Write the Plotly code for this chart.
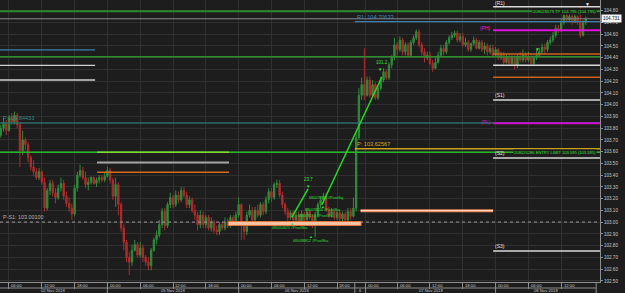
import plotly.graph_objects as go

# ---------------- data (30-minute bars) ----------------
opens = [103.74,103.80,103.85,103.78,103.89,103.85,103.91,103.83,103.61,103.70,
 103.66,103.55,103.47,103.43,103.38,103.43,103.34,103.12,103.27,103.33,
 103.25,103.21,103.29,103.33,103.22,103.16,103.12,103.07,103.29,103.40,
 103.44,103.38,103.32,103.34,103.38,103.33,103.36,103.38,103.36,103.39,
 103.44,103.36,103.22,103.32,103.15,102.95,102.83,102.70,102.66,102.76,
 102.81,102.72,102.78,102.70,102.66,102.63,102.76,102.85,102.89,102.98,
 103.09,102.97,103.15,103.21,103.15,103.23,103.19,103.27,103.23,103.15,
 103.19,103.10,103.06,102.98,103.06,102.98,103.04,102.95,103.00,102.93,
 102.92,102.98,102.95,103.00,102.97,103.04,103.00,103.06,103.15,102.98,
 102.92,103.06,103.10,103.02,103.10,103.06,103.15,103.09,103.19,103.26,
 103.21,103.32,103.33,103.23,103.15,103.09,103.04,103.08,103.02,103.06,
 103.00,103.07,103.02,103.09,103.04,102.97,103.06,103.15,103.19,103.22,
 103.10,103.06,103.09,103.04,103.08,103.03,103.07,103.02,103.09,103.05,
 103.12,103.72,104.08,104.17,104.08,104.21,104.08,104.17,104.06,104.14,
 104.21,104.28,104.23,104.34,104.40,104.51,104.47,104.55,104.45,104.51,
 104.42,104.53,104.57,104.62,104.51,104.45,104.40,104.42,104.35,104.31,
 104.36,104.42,104.48,104.45,104.53,104.57,104.59,104.61,104.55,104.58,
 104.51,104.53,104.47,104.52,104.55,104.48,104.53,104.47,104.50,104.45,
 104.48,104.42,104.47,104.40,104.42,104.36,104.41,104.35,104.40,104.34,
 104.41,104.38,104.43,104.38,104.41,104.35,104.40,104.42,104.45,104.49,
 104.47,104.53,104.55,104.59,104.65,104.64,104.70,104.76,104.72,104.75,
 104.70,104.75,104.70,104.59,104.70]
closes = [103.80,103.85,103.78,103.89,103.85,103.91,103.83,103.61,103.70,103.66,
 103.55,103.47,103.43,103.38,103.43,103.34,103.12,103.27,103.33,103.25,
 103.21,103.29,103.33,103.22,103.16,103.12,103.07,103.29,103.40,103.44,
 103.38,103.32,103.34,103.38,103.33,103.36,103.38,103.36,103.39,103.44,
 103.36,103.22,103.32,103.15,102.95,102.83,102.70,102.66,102.76,102.81,
 102.72,102.78,102.70,102.66,102.63,102.76,102.85,102.89,102.98,103.09,
 102.97,103.15,103.21,103.15,103.23,103.19,103.27,103.23,103.15,103.19,
 103.10,103.06,102.98,103.06,102.98,103.04,102.95,103.00,102.93,102.92,
 102.98,102.95,103.00,102.97,103.04,103.00,103.06,103.15,102.98,102.92,
 103.06,103.10,103.02,103.10,103.06,103.15,103.09,103.19,103.26,103.21,
 103.32,103.33,103.23,103.15,103.09,103.04,103.08,103.02,103.06,103.00,
 103.07,103.02,103.09,103.04,102.97,103.06,103.15,103.19,103.22,103.10,
 103.06,103.09,103.04,103.08,103.03,103.07,103.02,103.09,103.05,103.12,
 103.72,104.08,104.17,104.08,104.21,104.08,104.17,104.06,104.14,104.21,
 104.28,104.23,104.34,104.40,104.51,104.47,104.55,104.45,104.51,104.42,
 104.53,104.57,104.62,104.51,104.45,104.40,104.42,104.35,104.31,104.36,
 104.42,104.48,104.45,104.53,104.57,104.59,104.61,104.55,104.58,104.51,
 104.53,104.47,104.52,104.55,104.48,104.53,104.47,104.50,104.45,104.48,
 104.42,104.47,104.40,104.42,104.36,104.41,104.35,104.40,104.34,104.41,
 104.38,104.43,104.38,104.41,104.35,104.40,104.42,104.45,104.49,104.47,
 104.53,104.55,104.59,104.65,104.64,104.70,104.76,104.72,104.75,104.70,
 104.75,104.70,104.59,104.70,104.731]
highs = [103.83,103.89,103.87,103.91,103.93,103.94,103.93,103.85,103.78,103.72,
 103.68,103.57,103.53,103.46,103.46,103.44,103.38,103.29,103.36,103.36,
 103.29,103.32,103.38,103.36,103.26,103.21,103.16,103.32,103.43,103.49,
 103.47,103.43,103.38,103.39,103.39,103.38,103.40,103.40,103.43,103.47,
 103.46,103.38,103.38,103.34,103.17,102.98,102.85,102.75,102.81,102.85,
 102.83,102.83,102.81,102.72,102.70,102.78,102.87,102.93,103.02,103.12,
 103.12,103.17,103.25,103.23,103.27,103.26,103.30,103.30,103.26,103.22,
 103.21,103.15,103.09,103.10,103.09,103.06,103.06,103.04,103.02,102.97,
 103.00,103.00,103.04,103.03,103.06,103.06,103.09,103.21,103.16,103.00,
 103.09,103.15,103.13,103.13,103.15,103.17,103.17,103.22,103.29,103.29,
 103.34,103.36,103.36,103.26,103.17,103.12,103.10,103.10,103.09,103.09,
 103.10,103.09,103.12,103.10,103.06,103.09,103.17,103.22,103.25,103.25,
 103.13,103.12,103.10,103.10,103.10,103.09,103.09,103.12,103.12,103.21,
 103.78,104.14,104.23,104.48,104.24,104.24,104.21,104.19,104.17,104.24,
 104.31,104.30,104.36,104.42,104.57,104.53,104.58,104.57,104.53,104.53,
 104.55,104.59,104.64,104.64,104.53,104.48,104.45,104.45,104.38,104.40,
 104.45,104.51,104.51,104.55,104.59,104.62,104.63,104.63,104.61,104.61,
 104.57,104.55,104.53,104.58,104.57,104.55,104.55,104.53,104.52,104.51,
 104.51,104.49,104.48,104.45,104.45,104.43,104.43,104.42,104.42,104.43,
 104.45,104.47,104.45,104.45,104.43,104.42,104.47,104.48,104.52,104.52,
 104.55,104.58,104.62,104.68,104.68,104.73,104.79,104.78,104.77,104.77,
 104.77,104.76,104.83,104.72,104.75]
lows = [103.72,103.77,103.74,103.77,103.83,103.83,103.80,103.47,103.57,103.61,
 103.51,103.44,103.39,103.36,103.36,103.32,103.09,103.10,103.23,103.22,
 103.16,103.19,103.26,103.19,103.13,103.09,103.02,103.05,103.26,103.38,
 103.36,103.29,103.27,103.32,103.32,103.30,103.33,103.34,103.34,103.38,
 103.33,103.19,103.13,103.06,102.92,102.76,102.66,102.55,102.63,102.75,
 102.70,102.70,102.66,102.63,102.59,102.59,102.75,102.81,102.87,102.95,
 102.93,102.95,103.12,103.12,103.13,103.16,103.17,103.21,103.12,103.12,
 103.08,103.02,102.93,102.95,102.95,102.95,102.93,102.92,102.91,102.89,
 102.89,102.93,102.93,102.95,102.95,102.98,102.98,103.04,102.85,102.85,
 102.89,103.04,103.00,103.00,103.04,103.04,103.06,103.07,103.16,103.17,
 103.19,103.29,103.21,103.12,103.06,103.00,103.02,102.99,103.00,102.98,
 102.98,103.00,103.00,103.02,102.95,102.87,103.04,103.12,103.16,103.09,
 103.04,103.04,103.02,103.02,103.00,103.00,103.00,103.00,103.02,103.04,
 103.09,103.70,104.04,104.04,104.07,104.06,104.07,104.04,104.04,104.12,
 104.19,104.21,104.21,104.31,104.38,104.42,104.45,104.42,104.42,104.40,
 104.41,104.51,104.55,104.49,104.42,104.36,104.38,104.34,104.28,104.30,
 104.35,104.41,104.42,104.43,104.51,104.55,104.57,104.53,104.53,104.49,
 104.49,104.45,104.45,104.50,104.47,104.47,104.45,104.43,104.42,104.43,
 104.41,104.41,104.38,104.38,104.34,104.35,104.34,104.34,104.30,104.31,
 104.36,104.36,104.36,104.36,104.34,104.34,104.38,104.41,104.43,104.43,
 104.45,104.51,104.53,104.57,104.61,104.62,104.68,104.70,104.70,104.68,
 104.70,104.68,104.57,104.58,104.68]

# x-axis: time ticks (bar index) and date sections
time_tick_bars = [3, 15, 27, 39, 51, 63, 75, 87, 99, 111, 123, 133.4, 145, 157, 169, 181, 193, 205]
time_tick_text = ["06:00", "12:00", "18:00", "00:00", "06:00", "12:00", "18:00", "00:00", "06:00",
                  "12:00", "18:00", "00:00", "06:00", "12:00", "18:00", "00:00", "06:00", "12:00"]
date_sep_bars = [39, 87, 129.5, 133.4, 181, 217.8]
date_label_bars = [19, 63, 108.2, 131.45, 157.2, 199.4]
date_label_text = ["02 Nov 2018", "05 Nov 2018", "06 Nov 2018", "6", "07 Nov 2018", "08 Nov 2018"]

# price levels
tp_price = 104.795
entry_price = 103.595
order_level = 104.408
day_r1 = 104.70633
day_p = 103.62567
prev_p = 103.84433
prev_s1 = 103.00100
new_r1, new_ph, new_m1, new_m2, new_m3 = 104.834, 104.633, 104.431, 104.335, 104.233
new_s1, new_pl, new_s2, new_s3 = 104.040, 103.842, 103.546, 102.755
old_lime, old_gray, old_orange = 103.595, 103.508, 103.426
left_blue, left_white1, left_white2 = 104.466, 104.335, 104.210
peach_line = 103.098
zone_low, zone_high = 102.972, 103.006

# drawings (bar, price)
trend_long = [(117.4, 103.146), (139.4, 104.236)]
trend_short = [(106.5, 103.044), (112.4, 103.283)]

FONT = "Liberation Sans"
BG = "#1d1d1d"
GRID = "#303030"
AX = "#8e8e8e"

x = list(range(len(opens)))
fig = go.Figure()
fig.add_trace(go.Candlestick(
    x=x, open=opens, high=highs, low=lows, close=closes,
    increasing=dict(line=dict(color="#2f8c3a", width=1), fillcolor="#2f8c3a"),
    decreasing=dict(line=dict(color="#b02c2c", width=1), fillcolor="#b02c2c"),
    whiskerwidth=0, showlegend=False, hoverinfo="skip"))

XMIN, XMAX = -0.29, 219.2
shapes = []


def hline(price, x0, x1, color, width=1.0, dash="solid"):
    shapes.append(dict(type="line", xref="x", yref="y", x0=x0, x1=x1, y0=price, y1=price,
                       line=dict(color=color, width=width, dash=dash), layer="above"))


# full-width levels
hline(tp_price, XMIN, XMAX, "#2b8a2b", 2)
hline(closes[-1], XMIN, XMAX, "#8a8a8a", 1)
hline(order_level, XMIN, XMAX, "#2f8f2f", 1.3)
hline(prev_p, XMIN, XMAX, "#2b6c6c", 1.3)
hline(entry_price, XMIN, XMAX, "#27b527", 1.5)
hline(prev_s1, XMIN, XMAX, "#9a9a9a", 1, "dot")
# left short lines
for p, c in [(left_blue, "#3d7fae"), (left_white1, "#d0d0d0"), (left_white2, "#d0d0d0")]:
    hline(p, XMIN, 34.5, c, 1.3)
# previous-day lines
hline(old_lime, 35.2, 83.5, "#86d830", 1.6)
hline(old_gray, 35.2, 83.5, "#a4a4a4", 2)
hline(old_orange, 35.2, 83.5, "#d2691e", 1.5)
# day pivot lines
hline(day_r1, 129.5, XMAX, "#3d7fae", 1.3)
hline(day_p, 129.5, XMAX, "#c8a020", 1.5)
# right-side pivot set
for p, c, w in [(new_r1, "#d8d8d8", 1.5), (new_ph, "#e010e0", 2), (new_m1, "#c8641e", 1.5),
                (new_m2, "#d8d8d8", 1.5), (new_m3, "#c8641e", 1.5), (new_s1, "#d8d8d8", 1.5),
                (new_pl, "#d010d0", 2), (new_s2, "#d8d8d8", 1.5), (new_s3, "#d8d8d8", 1.5)]:
    hline(p, 180.1, XMAX, c, w)
# peach line and zone
hline(peach_line, 131.6, 180.1, "#e8865a", 3)
hline(peach_line, 131.6, 180.1, "#ffe2cc", 1)
shapes.append(dict(type="rect", xref="x", yref="y", x0=83.2, x1=131.8, y0=zone_low, y1=zone_high,
                   fillcolor="#f6c3a4", line=dict(color="#e0743e", width=1), layer="above"))
# trend drawings
for seg in (trend_long, trend_short):
    shapes.append(dict(type="line", xref="x", yref="y", x0=seg[0][0], y0=seg[0][1],
                       x1=seg[1][0], y1=seg[1][1], line=dict(color="#22dd22", width=1.5), layer="above"))
# x-axis area: row divider and date separators
shapes.append(dict(type="line", xref="paper", yref="paper", x0=0, x1=0.9935, y0=-6 / 282, y1=-6 / 282,
                   line=dict(color=AX, width=1)))
for b in date_sep_bars:
    shapes.append(dict(type="line", xref="x", yref="paper", x0=b, x1=b, y0=0, y1=-11 / 282,
                       line=dict(color=AX, width=1)))

ann = []


def text(xv, yv, s, color, size, xanchor="left", yanchor="bottom", xref="x", yref="y", bg=None, yshift=0):
    d = dict(x=xv, y=yv, xref=xref, yref=yref, text=s, showarrow=False, xanchor=xanchor, yanchor=yanchor,
             font=dict(family=FONT, size=size, color=color), borderpad=0, yshift=yshift)
    if bg:
        d["bgcolor"] = bg
    ann.append(d)


for b, t in zip(time_tick_bars, time_tick_text):
    text(b + 0.5, -3.2 / 282, t, "#c4c4c4", 4.2, "left", "middle", yref="paper")
for b, t in zip(date_label_bars, date_label_text):
    text(b, -8.8 / 282, t, "#c4c4c4", 4.2, "center", "middle", yref="paper")

text(0.5, prev_p, "P:103.84433", "#2f8a8a", 5.5, yshift=1)
text(0.5, prev_s1, "P-S1: 103.00100", "#b4b4b4", 5.4, yshift=1)
text(130.0, day_r1, "R1: 104.70633", "#3f86b8", 5.6, yshift=1)
text(130.0, day_p, "P: 103.62567", "#d2aa22", 5.6, yshift=1)
text(180.4, new_r1, "(R1)", "#e0e0e0", 5, yshift=0)
text(180.4, new_s1, "(S1)", "#e0e0e0", 5, yshift=1)
text(180.4, new_s2, "(S2)", "#e0e0e0", 5, yshift=1)
text(180.4, new_s3, "(S3)", "#e0e0e0", 5, yshift=1)
text(179.8, new_ph, "(PH)", "#e020e0", 5, "right", "middle", yshift=2)
text(179.8, new_pl, "(PL)", "#c020c0", 5, "right", "middle", yshift=1)
text(218.2, tp_price, "208026579 TP 104.795 (104.795)", "#3be03b", 4.2, "right", "middle", bg=BG)
text(218.2, entry_price, "208026286 ENTRY LIMIT 103.595 (103.595)", "#3be03b", 4.1, "right", "middle", bg=BG)

# drawing labels
text(112.6, 103.33, "23.7", "#33e033", 4.5, "center", "bottom")
text(112.4, 103.30, "▼", "#33e033", 4.5, "center", "middle")
text(139.5, 104.33, "101.2", "#33e033", 4.5, "center", "bottom")
text(138.9, 104.30, "▼", "#33e033", 4.5, "center", "middle")
text(196.2, 104.47, "▼", "#33e033", 5, "center", "middle")
for bx, py, s in [(112.4, 103.206, "680078153 #PivotSig"), (111.0, 103.100, "680078156 #PivotSha"),
                  (108.5, 103.052, "680078155 #PivotSha"), (99.0, 102.950, "680004625 #PivotSha"),
                  (106.5, 102.842, "680088812 #PivotSha")]:
    text(bx, py, s, "#33dd33", 3.6, "left", "middle")
for bx, py in [(106.5, 102.985), (113.5, 102.875), (118.0, 103.13)]:
    text(bx, py, "▲", "#33dd33", 4, "center", "middle")
text(214.5, 1.0, "▼", "#f0f0f0", 5, "center", "top", yref="paper")

# current price box
ann.append(dict(x=1.002, y=closes[-1], xref="paper", yref="y", text="104.731", showarrow=False,
                xanchor="left", yanchor="middle", bgcolor="#f4f4f4", borderpad=1,
                font=dict(family=FONT, size=4.6, color="#111111")))

fig.update_layout(
    width=625, height=293, autosize=False,
    margin=dict(l=0, r=25, t=0, b=11, pad=0),
    paper_bgcolor=BG, plot_bgcolor=BG, showlegend=False,
    shapes=shapes, annotations=ann,
    xaxis=dict(range=[XMIN, XMAX], tickvals=time_tick_bars, showticklabels=False, ticks="outside",
               ticklen=6, tickcolor=AX, showgrid=True, gridcolor=GRID, gridwidth=1, showline=True,
               linecolor=AX, zeroline=False, rangeslider=dict(visible=False), fixedrange=True,
               automargin=False),
    yaxis=dict(side="right", range=[102.491, 104.891], tick0=102.5, dtick=0.1, tickformat=".2f",
               ticks="outside", ticklen=2, tickcolor=AX,
               tickfont=dict(family=FONT, size=4.6, color="#c8c8c8"),
               showgrid=True, gridcolor=GRID, showline=True, linecolor=AX, zeroline=False,
               automargin=False, fixedrange=True),
)
fig.write_html("out.html")
